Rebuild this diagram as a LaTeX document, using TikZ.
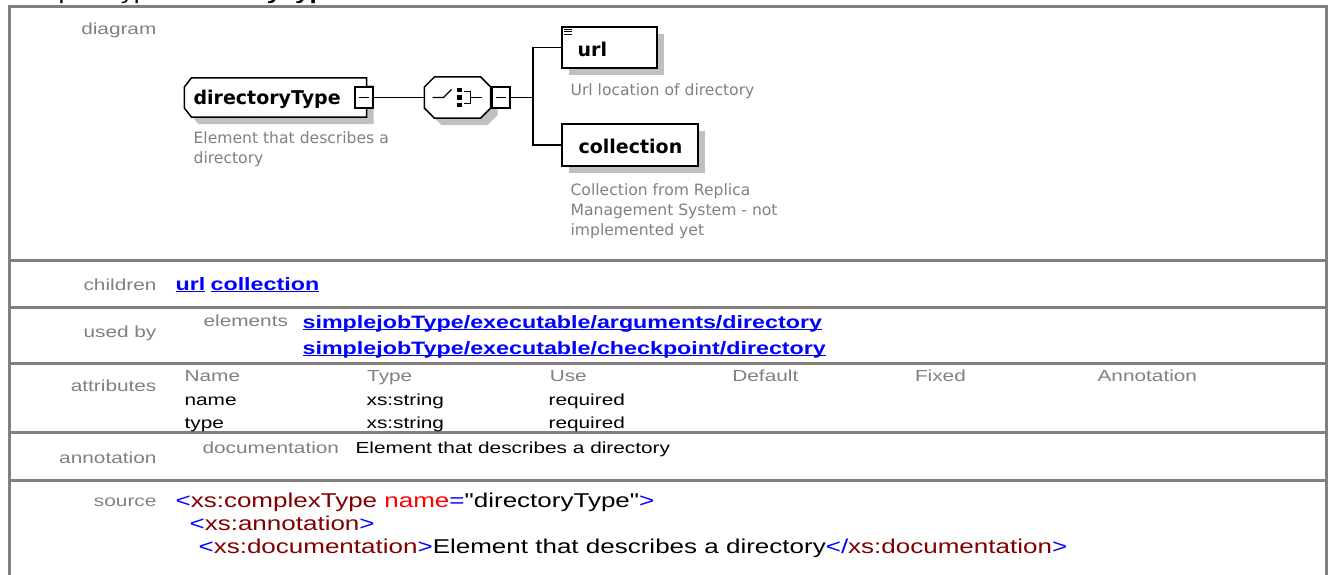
\documentclass[tikz,border=0pt]{standalone}
\usepackage{fontspec}
\setmainfont{Liberation Sans}[FakeStretch=1.3]
\newfontfamily\srcfont{Liberation Sans}[FakeStretch=1.3, Ligatures=TeXOff]
\newfontfamily\dgfont{DejaVu Sans}
\usepackage{tikz}
\usetikzlibrary{shadows,calc}

\definecolor{lblgray}{RGB}{128,128,128}
\definecolor{lnkblue}{RGB}{0,0,255}
\definecolor{tagred}{RGB}{128,0,0}
\definecolor{attred}{RGB}{255,0,0}
\definecolor{shd}{RGB}{192,192,192}
\newcommand\fsz[1]{\fontsize{#1}{#1}\selectfont}
\newcommand\ulnk[1]{\setbox0\hbox{#1}\rlap{\rule[-2.4pt]{\wd0}{1.3pt}}\box0}
\newcommand\tg[1]{\textcolor{lnkblue}{#1}}
\newcommand\tn[1]{\textcolor{tagred}{#1}}
% outlines of the element and compositor boxes
\newcommand\lchamf[3]{([xshift=#2]#1.north west) -- (#1.north east) -- (#1.south east) -- ([xshift=#2]#1.south west) -- ([yshift=#3]#1.south west) -- ([yshift=-#3]#1.north west) -- cycle}
\newcommand\allchamf[3]{([xshift=#2]#1.north west) -- ([xshift=-#2]#1.north east) -- ([yshift=-#3]#1.north east) -- ([yshift=#3]#1.south east) -- ([xshift=-#2]#1.south east) -- ([xshift=#2]#1.south west) -- ([yshift=#3]#1.south west) -- ([yshift=-#3]#1.north west) -- cycle}

\begin{document}
\begin{tikzpicture}[x=1pt, y=-1pt, line width=1.2pt,
	lbl/.style={anchor=base east, inner sep=0, text=lblgray, font=\fsz{16}},
	hdr/.style={anchor=base west, inner sep=0, text=lblgray, font=\fsz{16}},
	val/.style={anchor=base west, inner sep=0, font=\fsz{16}},
	lnk/.style={anchor=base west, inner sep=0, text=lnkblue, font=\fsz{17.9}\bfseries},
	srcline/.style={anchor=base west, inner sep=0, font=\srcfont\fsz{20}},
	desc/.style={anchor=base west, inner sep=0, text=lblgray, font=\dgfont\fsz{15.6}},
	elemtxt/.style={anchor=base west, inner sep=0, font=\dgfont\bfseries\fsz{19}},
	elem/.style={draw, fill=white, line width=1.5pt, inner sep=0,
		drop shadow={shadow xshift=7pt, shadow yshift=-7pt, opacity=1, fill=shd}},
	frame/.style={inner sep=0, minimum width=#1},
	boxline/.style={draw, fill=white, line width=1.5pt},
	boxshadow/.style={fill=shd, transform canvas={xshift=7pt, yshift=-7pt}},
	togglebox/.style={draw, fill=white, minimum width=18, minimum height=21, inner sep=0,
		path picture={\draw ($(path picture bounding box.west)+(4pt,0)$) -- ($(path picture bounding box.east)+(-4pt,0)$);}},
	rowline/.style={draw=lblgray, line width=3pt}]
	\useasboundingbox (0,0) rectangle (1329,574);
	\clip (0,0) rectangle (1329,574);

	\node[anchor=base west, inner sep=0, font=\fsz{20}] (ttl) at (9,-1) {complexType \textbf{directoryType}};
	\draw[rowline] (9.5,580) -- (9.5,6.5) -- (1326,6.5) -- (1326,580);
	\foreach \y in {260,307,363,432,480}
		\draw[rowline] (9.5,\y) -- (1326,\y);

	\node[lbl] (ldiag) at (157,34) {diagram};
	\node[lbl] (lchild) at (157,290) {children};
	\node[lbl] (lused) at (157,337) {used by};
	\node[lbl] (lattr) at (157,391) {attributes};
	\node[lbl] (lanno) at (157,463) {annotation};
	\node[lbl] (lsrc) at (157,506) {source};

	\node[frame=181, minimum height=38] (dt) at (275.5,97.5) {};
	\fill[boxshadow] \lchamf{dt}{7}{9};
	\draw[boxline] \lchamf{dt}{7}{9};
	\node[elemtxt] (dtt) at (193,104) {directoryType};
	\node[togglebox] (dtm) at (364,97.5) {};
	\node[desc] (dtd1) at (193,143) {Element that describes a};
	\node[desc] (dtd2) at (193,163) {directory};

	\node[frame=65, minimum height=40] (seq) at (457.5,97.5) {};
	\fill[boxshadow] \allchamf{seq}{10}{10};
	\draw[boxline] \allchamf{seq}{10}{10};
	\node[togglebox] (seqm) at (501,97.5) {};
	\begin{scope}[shift={(seq.center)}]
		\draw (-25,0) -- (-14,0) -- (-6,-8);
		\fill (-1,-10) rectangle (4,-6);
		\fill (-1,-3) rectangle (4,2);
		\fill (-1,5) rectangle (4,9);
		\draw (6,-6) -- (13,-6) -- (13,6) -- (6,6);
		\draw (13,0) -- (24,0);
	\end{scope}

	\node[elem, rectangle, minimum width=95, minimum height=41] (url) at (609.5,47.5) {};
	\foreach \d in {3,5.5,8}
		\draw[line width=1pt] ([shift={(2.5,\d)}]url.north west) -- ++(8,0);
	\node[elemtxt] (urlt) at (577,56) {url};
	\node[desc] (urld) at (570,95) {Url location of directory};

	\node[elem, rectangle, minimum width=136, minimum height=42] (coll) at (630,145) {};
	\node[elemtxt] (collt) at (578,153) {collection};
	\node[desc] (colld1) at (570,195) {Collection from Replica};
	\node[desc] (colld2) at (570,215) {Management System - not};
	\node[desc] (colld3) at (570,235) {implemented yet};

	\coordinate (bus) at (533,97.5);
	\draw (dtm.east) -- (seq.west);
	\draw (seqm.east) -- (bus);
	\draw (url.west) -| (bus) |- (coll.west);

	\node[lnk] (curl) at (175,290) {\ulnk{url}};
	\node[lnk] (ccoll) at (210,290) {\ulnk{collection}};

	\node[hdr] (uel) at (203,326) {elements};
	\node[lnk] (ub1) at (302,328) {\ulnk{simplejobType/executable/arguments/directory}};
	\node[lnk] (ub2) at (302,354) {\ulnk{simplejobType/executable/checkpoint/directory}};

	\foreach \t [count=\i] in {Name,Type,Use,Default,Fixed,Annotation}
		\node[hdr] (ah\i) at ({184+182.6*(\i-1)},381) {\t};
	\node[val] (an1) at (184,405) {name};
	\node[val] (at1) at (366,405) {xs:string};
	\node[val] (au1) at (548,405) {required};
	\node[val] (an2) at (184,428) {type};
	\node[val] (at2) at (366,428) {xs:string};
	\node[val] (au2) at (548,428) {required};

	\node[hdr] (adoc) at (202,453) {documentation};
	\node[val] (atxt) at (355,453) {Element that describes a directory};

	\node[srcline] (s1) at (175,507) {\tg{<}\tn{xs:complexType} \textcolor{attred}{name}\tg{=}"directoryType"\tg{>}};
	\node[srcline] (s2) at (189,530) {\tg{<}\tn{xs:annotation}\tg{>}};
	\node[srcline] (s3) at (198,553) {\tg{<}\tn{xs:documentation}\tg{>}Element that describes a directory\tg{</}\tn{xs:documentation}\tg{>}};
\end{tikzpicture}
\end{document}
